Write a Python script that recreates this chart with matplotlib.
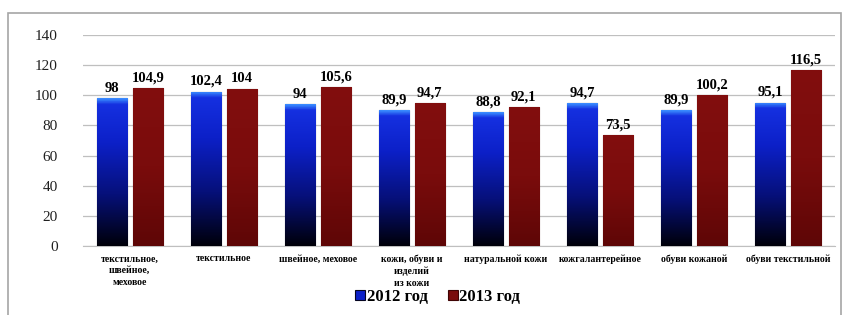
import matplotlib
matplotlib.use("Agg")
import matplotlib.pyplot as plt
import numpy as np
from matplotlib.colors import LinearSegmentedColormap
from matplotlib.patches import Rectangle

categories = ["текстильное,\nшвейное,\nмеховое", "текстильное", "швейное, меховое",
              "кожи, обуви и\nизделий\nиз кожи", "натуральной кожи", "кожгалантерейное",
              "обуви кожаной", "обуви текстильной"]
values_2012 = [98, 102.4, 94, 89.9, 88.8, 94.7, 89.9, 95.1]
values_2013 = [104.9, 104, 105.6, 94.7, 92.1, 73.5, 100.2, 116.5]
series_names = ["2012 год", "2013 год"]

plt.rcParams["font.family"] = ["Liberation Serif", "DejaVu Serif"]

fig = plt.figure(figsize=(8.45, 3.15), dpi=100)
fig.patches.append(Rectangle((8 / 845, -0.01), 0.995 - 8 / 845, 1 - 13 / 315 + 0.01,
                             transform=fig.transFigure, fill=False,
                             edgecolor="#a6a6a6", linewidth=1.2))
ax = fig.add_axes([0.098, 0.219, 0.89, 0.67])

x = np.arange(len(categories))
w = 0.32
off = 0.19

blue_cmap = LinearSegmentedColormap.from_list(
    "b", [(0, "#00000a"), (0.35, "#06107a"), (0.7, "#0c20c8"), (0.96, "#1530e0"), (1, "#3a8cff")])
red_cmap = LinearSegmentedColormap.from_list("r", ["#5e0606", "#7a0c0c", "#820e0e"])

bars1 = ax.bar(x - off, values_2012, w, color="#0c20c8", edgecolor="#050520",
               linewidth=0.8, label=series_names[0], zorder=2)
bars2 = ax.bar(x + off, values_2013, w, color="#7a0c0c", edgecolor="#3f0404",
               linewidth=0.8, label=series_names[1], zorder=2)

grad = np.linspace(0, 1, 200).reshape(-1, 1)
for bars, cmap in ((bars1, blue_cmap), (bars2, red_cmap)):
    for b in bars:
        bx, by = b.get_x(), b.get_y()
        bw, bh = b.get_width(), b.get_height()
        im = ax.imshow(grad, cmap=cmap, origin="lower", aspect="auto",
                       extent=(bx, bx + bw, by, by + bh), zorder=3)
        im.set_clip_path(b)

for xi, v in zip(x - off, values_2012):
    ax.text(xi, v + 2.5, f"{v:g}".replace(".", ","), ha="center", va="bottom",
            fontsize=10.5, fontweight="bold")
for xi, v in zip(x + off, values_2013):
    ax.text(xi, v + 2.5, f"{v:g}".replace(".", ","), ha="center", va="bottom",
            fontsize=10.5, fontweight="bold")

ax.set_xlim(-0.5, len(categories) - 0.5)
ax.set_ylim(0, 140)
ax.set_yticks(range(0, 141, 20))
ax.tick_params(axis="y", length=0, labelsize=11, pad=18, labelcolor="#202020")
ax.set_xticks(x)
ax.set_xticklabels(categories, fontsize=7, fontweight="bold", linespacing=1.4)
ax.tick_params(axis="x", length=0, pad=6)
ax.grid(axis="y", color="#bfbfbf", linewidth=0.9, zorder=0)
ax.set_axisbelow(True)
for s in ["top", "right", "left"]:
    ax.spines[s].set_visible(False)
ax.spines["bottom"].set_color("#bfbfbf")

leg = fig.legend(handles=[bars1, bars2], labels=series_names, loc="center",
                 bbox_to_anchor=(0.518, 0.058), ncol=2, frameon=False,
                 fontsize=12, handlelength=0.6, handleheight=0.6,
                 handletextpad=0.1, columnspacing=1.2)
for t in leg.get_texts():
    t.set_fontweight("bold")

fig.savefig("out.png", dpi=100)
